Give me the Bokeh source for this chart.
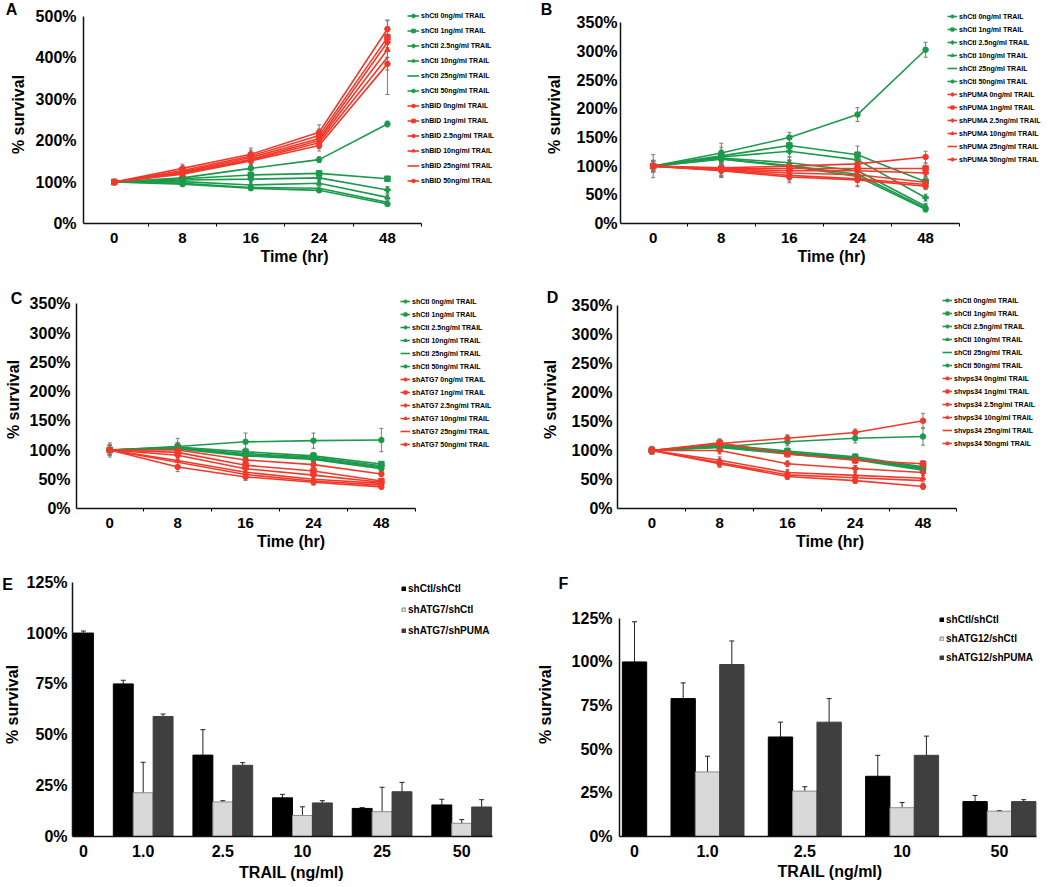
import numpy as np
from bokeh.plotting import figure
from bokeh.models import (ColumnDataSource, FixedTicker, PrintfTickFormatter, Legend, LegendItem,
                          Whisker, TeeHead, Range1d, CustomJSTickFormatter, GridBox)
from bokeh.layouts import column, row
from bokeh.core.properties import value
from bokeh.embed import file_html
from bokeh.resources import INLINE

# ---------------- data ----------------
TIME_LABELS = ["0", "8", "16", "24", "48"]
DOSE_TXT = ["0ng/ml", "1ng/ml", "2.5ng/ml", "10ng/ml", "25ng/ml", "50ng/ml"]

CTL_LABELS = ["shCtl %s TRAIL" % d for d in DOSE_TXT]
A_TRT_LABELS = ["shBID %s TRAIL" % d for d in DOSE_TXT]
B_TRT_LABELS = ["shPUMA %s TRAIL" % d for d in DOSE_TXT]
C_TRT_LABELS = ["shATG7 %s TRAIL" % d for d in DOSE_TXT]
D_TRT_LABELS = ["shvps34 0ng/ml TRAIL", "shvps34 1ng/ml TRAIL", "shvps34 2.5ng/ml TRAIL",
                "shvps34 10ng/ml TRAIL", "shvps34 25ng/ml TRAIL", "shvps34 50ngml TRAIL"]

A_ctl = [[100, 110, 133, 154, 240], [100, 108, 117, 121, 108], [100, 105, 107, 110, 81],
         [100, 101, 93, 97, 63], [100, 97, 87, 85, 51], [100, 95, 85, 80, 47]]
A_ctl_err = [[5, 8, 6, 7, 7], [5, 6, 6, 5, 3], [5, 6, 5, 5, 8],
             [5, 6, 5, 5, 6], [5, 6, 5, 5, 5], [5, 6, 5, 5, 4]]
A_trt = [[100, 133, 167, 220, 469], [100, 128, 163, 212, 449], [100, 125, 159, 205, 437],
         [100, 123, 155, 200, 419], [100, 121, 153, 195, 401], [100, 119, 151, 188, 385]]
A_trt_err = [[6, 10, 15, 18, 20], [6, 10, 14, 16, 25], [6, 9, 13, 15, 20],
             [6, 9, 13, 14, 18], [6, 9, 12, 14, 90], [6, 9, 12, 13, 15]]

B_ctl = [[100, 123, 150, 190, 303], [100, 118, 136, 120, 73], [100, 116, 126, 111, 45],
         [100, 114, 106, 92, 30], [100, 113, 101, 86, 27], [100, 112, 100, 82, 25]]
B_ctl_err = [[20, 17, 9, 12, 13], [10, 15, 12, 15, 7], [10, 12, 10, 12, 6],
             [10, 10, 10, 10, 5], [10, 10, 10, 10, 5], [10, 10, 10, 10, 5]]
B_trt = [[100, 97, 100, 104, 116], [100, 96, 96, 96, 96], [100, 95, 92, 92, 88],
         [100, 94, 88, 85, 72], [100, 93, 84, 78, 68], [100, 92, 81, 76, 65]]
B_trt_err = [[8, 10, 10, 8, 10], [8, 12, 10, 10, 8], [8, 12, 10, 10, 6],
             [8, 12, 10, 12, 6], [8, 12, 10, 12, 6], [8, 12, 10, 12, 6]]

C_ctl = [[100, 106, 114, 116, 117], [100, 105, 97, 90, 76], [100, 104, 94, 88, 73],
         [100, 103, 92, 86, 71], [100, 103, 91, 85, 70], [100, 102, 90, 84, 68]]
C_ctl_err = [[12, 14, 15, 13, 20], [8, 8, 6, 6, 4], [8, 8, 6, 6, 4],
             [8, 8, 6, 6, 4], [8, 8, 6, 6, 4], [8, 8, 6, 6, 4]]
C_trt = [[100, 100, 83, 75, 59], [100, 96, 74, 64, 47], [100, 91, 68, 57, 45],
         [100, 82, 62, 50, 43], [100, 79, 58, 47, 40], [100, 71, 54, 45, 37]]
C_trt_err = [[8, 8, 6, 5, 4], [8, 8, 6, 5, 4], [8, 8, 6, 5, 4],
             [8, 8, 6, 5, 4], [8, 8, 6, 5, 4], [8, 8, 6, 5, 4]]

D_ctl = [[100, 106, 115, 121, 124], [100, 110, 99, 89, 72], [100, 108, 97, 87, 70],
         [100, 107, 96, 86, 69], [100, 106, 95, 85, 68], [100, 105, 94, 84, 66]]
D_ctl_err = [[7, 8, 7, 8, 15], [5, 6, 5, 5, 5], [5, 6, 5, 5, 5],
             [5, 6, 5, 5, 5], [5, 6, 5, 5, 5], [5, 6, 5, 5, 5]]
D_trt = [[100, 112, 121, 131, 151], [100, 113, 94, 83, 77], [100, 100, 77, 69, 62],
         [100, 83, 62, 57, 52], [100, 79, 58, 53, 48], [100, 77, 55, 48, 38]]
D_trt_err = [[7, 8, 6, 6, 13], [5, 6, 5, 5, 5], [5, 6, 5, 5, 5],
             [5, 6, 5, 5, 5], [5, 6, 5, 5, 5], [5, 6, 5, 5, 5]]

E_doses = ["0", "1.0", "2.5", "10", "25", "50"]
E_labels = ["shCtl/shCtl", "shATG7/shCtl", "shATG7/shPUMA"]
E_vals = [[100, 75, 40, 19, 13.8, 15.5],
          [None, 21.5, 17, 10.3, 12.2, 6.5],
          [None, 59, 35, 16.5, 22, 14.5]]
E_errs = [[1, 1.8, 12.5, 1.7, 0.4, 2.8],
          [None, 15, 0.6, 4.3, 12, 1.8],
          [None, 1.2, 1.3, 1.1, 4.6, 3.6]]

F_doses = ["0", "1.0", "2.5", "10", "50"]
F_labels = ["shCtl/shCtl", "shATG12/shCtl", "shATG12/shPUMA"]
F_vals = [[100, 79, 57, 34.5, 20],
          [None, 37, 26, 16.5, 14.5],
          [None, 98.5, 65.5, 46.5, 20]]
F_errs = [[23, 9, 8.5, 12, 3.5],
          [None, 9, 2.5, 3, 0.3],
          [None, 13.5, 13.5, 11, 1.1]]

PANEL_LETTERS = ["A", "B", "C", "D", "E", "F"]

# ---------------- style ----------------
FONT = "Liberation Sans"
GREEN = "#1b9a4b"
RED = "#f0392b"
ERR = "#7a7a7a"
MARKERS = ["circle", "square", "plus", "triangle", None, "circle"]
BAR_FILL = ["#000000", "#d9d9d9", "#3f3f3f"]
BAR_LINE = ["#000000", "#8c8c8c", "#3f3f3f"]

COL_W = [520, 529]
ROW_H = [270, 282, 334]


def style_axes(p, tick_px, label_px):
    for ax in (p.xaxis[0], p.yaxis[0]):
        ax.axis_line_width = 1.5
        ax.axis_line_color = "#111111"
        ax.major_label_text_font = FONT
        ax.major_label_text_font_style = "bold"
        ax.major_label_text_font_size = tick_px
        ax.major_label_text_color = "black"
        ax.axis_label_text_font = FONT
        ax.axis_label_text_font_style = "bold"
        ax.axis_label_text_font_size = label_px
        ax.axis_label_text_color = "black"
        ax.major_tick_out = 0
        ax.major_tick_in = 0
        ax.minor_tick_in = 0
        ax.minor_tick_out = 0


def base_fig(width, height, b_left, b_right, b_top, b_bottom, x_start, px_unit, y_top_px, y_max):
    frame_w = width - b_left - b_right
    frame_h = height - b_top - b_bottom
    frame_bottom = b_top + frame_h
    px_pct = (frame_bottom - y_top_px) / y_max
    p = figure(width=width, height=height, min_border_left=b_left, min_border_right=b_right,
               min_border_top=b_top, min_border_bottom=b_bottom,
               x_range=Range1d(x_start, x_start + frame_w / px_unit),
               y_range=Range1d(0, frame_h / px_pct),
               output_backend="svg", toolbar_location=None)
    p.outline_line_color = None
    p.xgrid.visible = False
    p.ygrid.visible = False
    return p, frame_bottom


def line_panel(ctl, ctl_err, trt, trt_err, trt_labels, y_ticks, *, width, height,
               b_left, b_right, b_top, b_bottom, x_start, px_unit, y_top_px,
               leg_left, leg_top, item_h, spacing, glyph_w, ylab_standoff, ytick_standoff):
    p, frame_bottom = base_fig(width, height, b_left, b_right, b_top, b_bottom, x_start,
                               px_unit, y_top_px, y_ticks[-1])
    xs = list(range(len(TIME_LABELS)))
    items = []
    groups = [(ctl, ctl_err, GREEN, CTL_LABELS), (trt, trt_err, RED, trt_labels)]
    for vals_list, err_list, color, labels in groups:
        for k, (vals, errs) in enumerate(zip(vals_list, err_list)):
            v = np.array(vals, float)
            e = np.array(errs, float)
            src = ColumnDataSource(dict(x=xs, y=v, lo=v - e, hi=v + e))
            p.add_layout(Whisker(source=src, base="x", upper="hi", lower="lo", line_color=ERR,
                                 line_width=1,
                                 upper_head=TeeHead(size=4, line_color=ERR, line_width=1),
                                 lower_head=TeeHead(size=4, line_color=ERR, line_width=1)))
            rs = [p.line("x", "y", source=src, line_color=color, line_width=1.6)]
            if MARKERS[k]:
                rs.append(p.scatter("x", "y", source=src, marker=MARKERS[k], size=5.5,
                                    color=color))
            items.append(LegendItem(label=labels[k], renderers=rs))
    n = len(items)
    H = n * item_h + (n - 1) * spacing
    leg = Legend(items=items, location=(leg_left - b_left, frame_bottom - leg_top - H),
                 glyph_width=glyph_w, glyph_height=item_h, label_height=item_h,
                 label_standoff=2, spacing=spacing, padding=0, margin=0,
                 border_line_color=None, background_fill_alpha=0,
                 label_text_font=FONT, label_text_font_style="bold",
                 label_text_font_size="7px", label_text_color="black")
    p.add_layout(leg)

    style_axes(p, "16px", "16px")
    xa = p.xaxis[0]
    xa.ticker = FixedTicker(ticks=xs, minor_ticks=[i + 0.5 for i in xs])
    xa.major_label_overrides = {i: t for i, t in enumerate(TIME_LABELS)}
    xa.major_label_text_font_size = "15px"
    xa.bounds = (x_start, len(xs) - 0.5)
    xa.minor_tick_out = 3
    xa.major_label_standoff = 6
    xa.axis_label = "Time (hr)"
    xa.axis_label_standoff = 2
    ya = p.yaxis[0]
    ya.ticker = FixedTicker(ticks=y_ticks, minor_ticks=[])
    ya.formatter = PrintfTickFormatter(format="%d%%")
    ya.bounds = (0, y_ticks[-1])
    ya.major_label_standoff = ytick_standoff
    ya.axis_label = "% survival"
    ya.axis_label_standoff = ylab_standoff
    return p


def bar_panel(doses, vals, errs, labels, y_ticks, *, width, height, b_left, b_right,
              b_top, b_bottom, x_start, px_unit, y_top_px, leg_left, leg_top,
              label_h, spacing, ylab_standoff, ytick_standoff, xlab_standoff):
    p, frame_bottom = base_fig(width, height, b_left, b_right, b_top, b_bottom, x_start,
                               px_unit, y_top_px, y_ticks[-1])
    n = len(doses)
    centers = np.arange(n, dtype=float)
    centers[0] = centers[1] - 0.75
    bw = 0.25
    offsets = [-bw, 0.0, bw]
    items = []
    for s in range(len(vals)):
        xs, tops, lo, hi = [], [], [], []
        for g in range(n):
            if vals[s][g] is None:
                continue
            full = all(vals[t][g] is not None for t in range(len(vals)))
            xs.append(centers[g] + (offsets[s] if full else 0.0))
            tops.append(vals[s][g])
            lo.append(vals[s][g] - errs[s][g])
            hi.append(vals[s][g] + errs[s][g])
        src = ColumnDataSource(dict(x=xs, top=tops, lo=lo, hi=hi))
        r = p.vbar(x="x", top="top", width=bw, bottom=0, source=src, fill_color=BAR_FILL[s],
                   line_color=BAR_LINE[s], line_width=1)
        p.add_layout(Whisker(source=src, base="x", upper="hi", lower="lo", line_color="#222222",
                             line_width=1,
                             upper_head=TeeHead(size=5, line_color="#222222", line_width=1),
                             lower_head=TeeHead(size=5, line_color="#222222", line_width=1)))
        items.append(LegendItem(label=labels[s], renderers=[r]))
    k = len(items)
    H = k * label_h + (k - 1) * spacing
    leg = Legend(items=items, location=(leg_left - b_left, frame_bottom - leg_top - H),
                 glyph_width=5, glyph_height=5, label_height=label_h, label_standoff=2,
                 spacing=spacing, padding=0, margin=0, border_line_color=None,
                 background_fill_alpha=0, label_text_font=FONT, label_text_font_style="bold",
                 label_text_font_size="10px", label_text_color="black")
    p.add_layout(leg)

    style_axes(p, "16px", "16px")
    xa = p.xaxis[0]
    xa.ticker = FixedTicker(ticks=list(centers), minor_ticks=[])
    xa.formatter = CustomJSTickFormatter(args=dict(labels=doses), code="return labels[index];")
    xa.bounds = (x_start, centers[-1] + 1.5 * bw + 0.01)
    xa.major_label_standoff = 8
    xa.axis_label = "TRAIL (ng/ml)"
    xa.axis_label_standoff = xlab_standoff
    ya = p.yaxis[0]
    ya.ticker = FixedTicker(ticks=y_ticks, minor_ticks=[])
    ya.formatter = PrintfTickFormatter(format="%d%%")
    ya.bounds = (0, y_ticks[-1])
    ya.major_label_standoff = ytick_standoff
    ya.axis_label = "% survival"
    ya.axis_label_standoff = ylab_standoff
    return p


TICKS_500 = [0, 100, 200, 300, 400, 500]
TICKS_350 = [0, 50, 100, 150, 200, 250, 300, 350]
TICKS_125 = [0, 25, 50, 75, 100, 125]

pA = line_panel(A_ctl, A_ctl_err, A_trt, A_trt_err, A_TRT_LABELS, TICKS_500,
                width=COL_W[0], height=ROW_H[0], b_left=83, b_right=15, b_top=5, b_bottom=47,
                x_start=-0.45, px_unit=68.3, y_top_px=15.7,
                leg_left=407, leg_top=11, item_h=9, spacing=6, glyph_w=12,
                ylab_standoff=6, ytick_standoff=7)
pB = line_panel(B_ctl, B_ctl_err, B_trt, B_trt_err, B_TRT_LABELS, TICKS_350,
                width=COL_W[1], height=ROW_H[0], b_left=100, b_right=7, b_top=5, b_bottom=47,
                x_start=-0.48, px_unit=68.1, y_top_px=22.3,
                leg_left=427, leg_top=12, item_h=8, spacing=5, glyph_w=10,
                ylab_standoff=11, ytick_standoff=3)
pC = line_panel(C_ctl, C_ctl_err, C_trt, C_trt_err, C_TRT_LABELS, TICKS_350,
                width=COL_W[0], height=ROW_H[1], b_left=76, b_right=15, b_top=20, b_bottom=44,
                x_start=-0.49, px_unit=67.9, y_top_px=33.3,
                leg_left=400, leg_top=27, item_h=8, spacing=5, glyph_w=10,
                ylab_standoff=5, ytick_standoff=6)
pD = line_panel(D_ctl, D_ctl_err, D_trt, D_trt_err, D_TRT_LABELS, TICKS_350,
                width=COL_W[1], height=ROW_H[1], b_left=97, b_right=7, b_top=20, b_bottom=41,
                x_start=-0.506, px_unit=67.8, y_top_px=35,
                leg_left=422, leg_top=29, item_h=8, spacing=5, glyph_w=10,
                ylab_standoff=10, ytick_standoff=5)
pE = bar_panel(E_doses, E_vals, E_errs, E_labels, TICKS_125,
               width=COL_W[0], height=ROW_H[2], b_left=70, b_right=10, b_top=20, b_bottom=50,
               x_start=0.1125, px_unit=80.0, y_top_px=29.7,
               leg_left=399, leg_top=30, label_h=12, spacing=9,
               ylab_standoff=3, ytick_standoff=5, xlab_standoff=4)
pF = bar_panel(F_doses, F_vals, F_errs, F_labels, TICKS_125,
               width=COL_W[1], height=ROW_H[2], b_left=99, b_right=9, b_top=20, b_bottom=47,
               x_start=0.0956, px_unit=97.3, y_top_px=66.3,
               leg_left=419, leg_top=64, label_h=12, spacing=7,
               ylab_standoff=15, ytick_standoff=7, xlab_standoff=3)

panels = column(row(pA, pB, spacing=0), row(pC, pD, spacing=0), row(pE, pF, spacing=0),
                spacing=0)

# transparent overlay carrying the panel letters (page pixel coordinates)
TOT_W, TOT_H = sum(COL_W), sum(ROW_H)
letter_x = [11, 546, 16, 552, 7, 563]
letter_y = [9, 9, 298, 297, 584, 583]
ov = figure(width=TOT_W, height=TOT_H, x_range=Range1d(0, TOT_W), y_range=Range1d(TOT_H, 0),
            min_border=0, x_axis_type=None, y_axis_type=None, output_backend="svg",
            toolbar_location=None)
ov.outline_line_color = None
ov.background_fill_color = None
ov.border_fill_color = None
ov.xgrid.visible = False
ov.ygrid.visible = False
ov.text(x=letter_x, y=letter_y, text=PANEL_LETTERS, text_font=value(FONT),
        text_font_style="bold", text_font_size="16px", text_align="center",
        text_baseline="middle", text_color="black")

layout = GridBox(children=[(panels, 0, 0), (ov, 0, 0)], spacing=0)
open("out.html", "w").write(file_html(layout, INLINE))
